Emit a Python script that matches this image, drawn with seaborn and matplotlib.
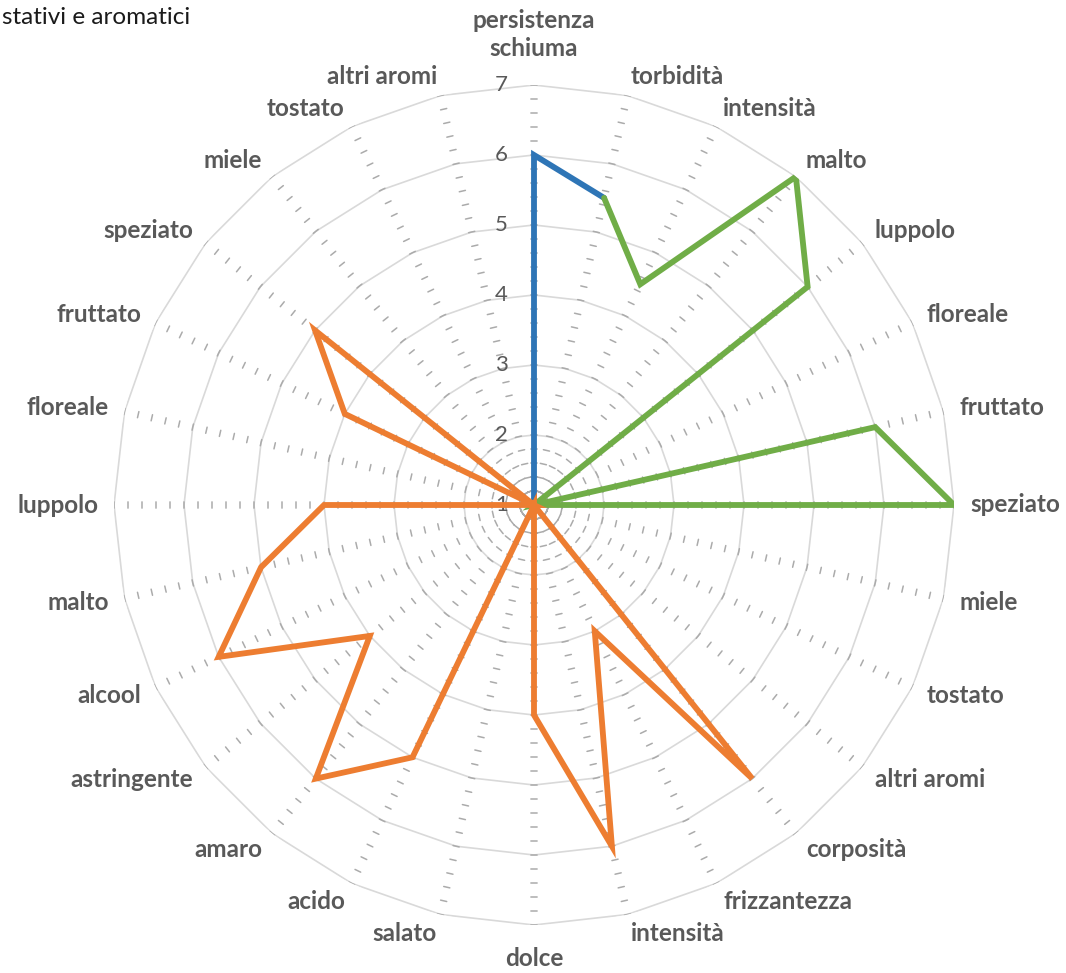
import numpy as np
import pandas as pd
import matplotlib
matplotlib.use("Agg")
import matplotlib.pyplot as plt
import seaborn as sns

# Descriptors, clockwise from the top
categories = [
    "persistenza\nschiuma", "torbidità",
    "intensità", "malto", "luppolo", "floreale", "fruttato", "speziato",
    "miele", "tostato", "altri aromi",
    "corposità", "frizzantezza", "intensità", "dolce", "salato", "acido",
    "amaro", "astringente", "alcool", "malto", "luppolo", "floreale",
    "fruttato", "speziato", "miele", "tostato", "altri aromi",
]
scores = [6, 5.5,
          4.5, 7, 6, 1, 6, 7, 1, 1, 1,
          6, 3, 6, 4, 1, 5, 6, 4, 6, 5, 4, 1, 4, 5, 1, 1, 1]
groups = ["visivo"] * 2 + ["aromatico"] * 9 + ["gustativo"] * 17
group_colors = {"visivo": "#2e75b6", "aromatico": "#70ad47", "gustativo": "#ed7d31"}
radial_ticks = [1, 2, 3, 4, 5, 6, 7]
title_text = "stativi e aromatici"

sns.set_style("white")
plt.rcParams["font.family"] = ["Lato", "DejaVu Sans"]

W, H, DPI = 1066, 973, 100
fig = plt.figure(figsize=(W / DPI, H / DPI), dpi=DPI)
cx, cy, R = 534, 505, 420
ax = fig.add_axes([(cx - R) / W, (H - cy - R) / H, 2 * R / W, 2 * R / H],
                  projection="polar")
ax.set_theta_zero_location("N")
ax.set_theta_direction(-1)
rmin, rmax = radial_ticks[0], radial_ticks[-1]
ax.set_ylim(rmin, rmax)
ax.grid(False)
ax.spines["polar"].set_visible(False)

n = len(categories)
theta = np.arange(n) * 2 * np.pi / n

# Polygon rings at each integer value
ring_t = np.append(theta, theta[0])
for r in radial_ticks[1:]:
    ax.plot(ring_t, np.full_like(ring_t, r), color="#d9d9d9", lw=1.2, zorder=1)

# Minor tick marks across every spoke (every 0.2)
hl = 0.045
tx, ty = [], []
for t in theta:
    for v in np.arange(rmin + 0.2, rmax + 0.01, 0.2):
        d = v - rmin
        rr = rmin + np.hypot(d, hl)
        dt = np.arctan2(hl, d)
        tx += [t - dt, t + dt, np.nan]
        ty += [rr, rr, np.nan]
ax.plot(tx, ty, color="#ababab", lw=1.1, zorder=2)

# Scores: each segment takes the colour of the descriptor it leads to
df = pd.DataFrame({"theta": theta, "score": scores, "group": groups})
runs = []
i = 0
while i < n:
    g = groups[i]
    j = i
    while j + 1 < n and groups[j + 1] == g:
        j += 1
    idx = [(i - 1) % n] + list(range(i, j + 1))
    runs.append((g, idx))
    i = j + 1
for g, idx in runs:
    seg = df.iloc[idx].copy()
    seg["theta"] = np.unwrap(seg["theta"].to_numpy())
    sns.lineplot(data=seg, x="theta", y="score", sort=False, estimator=None,
                 color=group_colors[g], lw=4.2, ax=ax, zorder=5,
                 solid_joinstyle="miter", solid_capstyle="round")
ax.set_xlabel("")
ax.set_ylabel("")
ax.set_ylim(rmin, rmax)
ax.set_xticks([])
ax.set_yticks([])

# Value labels along the top spoke
for v in radial_ticks:
    ax.annotate(str(v), xy=(0, v), xytext=(-26, 0), textcoords="offset pixels",
                ha="right", va="center", fontsize=16, color="#595959",
                annotation_clip=False)

# Descriptor labels around the outer ring
for t, lab in zip(theta, categories):
    s, c = np.sin(t), np.cos(t)
    if abs(s) < 0.05:
        ha = "center"
        va = "bottom" if c > 0 else "top"
        off = (0, 25 if c > 0 else -22)
    else:
        ha = "left" if s > 0 else "right"
        va = "center"
        off = (16 * s, 20 * c)
    ax.annotate(lab, xy=(t, rmax), xytext=off, textcoords="offset pixels",
                ha=ha, va=va, fontsize=17.5, fontweight="bold", color="#595959",
                multialignment="center", linespacing=1.25, annotation_clip=False)

fig.text(2 / W, 1 - 18 / H, title_text, ha="left", va="center",
         fontsize=17.5, color="#1a1a1a")

fig.savefig("out.png", dpi=DPI)
